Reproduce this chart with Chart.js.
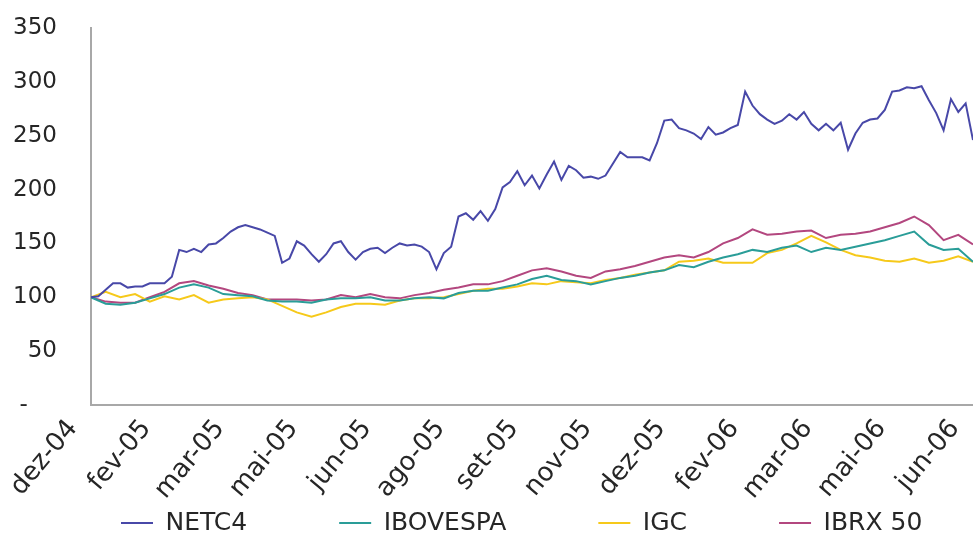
<!DOCTYPE html>
<html>
<head>
<meta charset="utf-8">
<script src="https://cdn.jsdelivr.net/npm/chart.js@4.4.0/dist/chart.umd.min.js"></script>
<style>
  html, body { margin: 0; padding: 0; background: #fff; }
  #wrap { width: 973px; height: 536px; }
</style>
</head>
<body>
<div id="wrap"><canvas id="chart"></canvas></div>
<script>
// tick labels, one every 10 steps of the x index
const tickLabels = ['dez-04', 'fev-05', 'mar-05', 'mai-05', 'jun-05', 'ago-05', 'set-05',
  'nov-05', 'dez-05', 'fev-06', 'mar-06', 'mai-06', 'jun-06'];

const seriesNames = ['NETC4', 'IBOVESPA', 'IGC', 'IBRX 50'];

// NETC4, read every step (121 points)
const netc4 = [
  100, 101, 107, 113, 113, 109, 110, 110, 113, 113,
  113, 119, 144, 142, 145, 142, 149, 150, 155, 161,
  165, 167, 165, 163, 160, 157, 132, 136, 152, 148,
  140, 133, 140, 150, 152, 142, 135, 142, 145, 146,
  141, 146, 150, 148, 149, 147, 142, 126, 141, 147,
  175, 178, 172, 180, 171, 182, 202, 207, 217, 204,
  213, 201, 214, 226, 209, 222, 218, 211, 212, 210,
  213, 224, 235, 230, 230, 230, 227, 243, 264, 265,
  257, 255, 252, 247, 258, 251, 253, 257, 260, 291,
  278, 270, 265, 261, 264, 270, 265, 272, 261, 255,
  261, 255, 262, 237, 252, 262, 265, 266, 274, 291,
  292, 295, 294, 296, 283, 271, 255, 284, 272, 280,
  246
];

// indices, read every 2 steps (61 points)
const ibovespa = [
  100, 94, 93, 95, 99, 103, 109, 112, 109, 103,
  102, 101, 97, 96, 96, 95, 98, 99, 99, 100,
  97, 97, 99, 100, 99, 104, 106, 106, 109, 112,
  117, 120, 116, 115, 112, 115, 118, 120, 123, 125,
  130, 128, 133, 137, 140, 144, 142, 146, 148, 142,
  146, 144, 147, 150, 153, 157, 161, 149, 144, 145,
  133
];
const igc = [
  100, 105, 100, 103, 96, 101, 98, 102, 95, 98,
  99, 100, 98, 92, 86, 82, 86, 91, 94, 94,
  93, 97, 99, 99, 100, 103, 106, 108, 108, 110,
  113, 112, 115, 114, 113, 116, 118, 121, 123, 125,
  133, 134, 136, 132, 132, 132, 141, 144, 150, 157,
  151, 144, 139, 137, 134, 133, 136, 132, 134, 138,
  133
];
const ibrx50 = [
  100, 96, 95, 95, 100, 105, 113, 115, 111, 108,
  104, 102, 98, 98, 98, 97, 98, 102, 100, 103,
  100, 99, 102, 104, 107, 109, 112, 112, 115, 120,
  125, 127, 124, 120, 118, 124, 126, 129, 133, 137,
  139, 137, 142, 150, 155, 163, 158, 159, 161, 162,
  155, 158, 159, 161, 165, 169, 175, 167, 153, 158,
  149
];

const colors = ['#4848a8', '#2a9d98', '#f6c91a', '#b3477f'];

const toPoints = (vals, step) => vals.map((v, i) => ({ x: i * step, y: v }));

const FONT = 'DejaVu Sans';
const TEXT = '#262626';
const LEGEND_PAD = 92;
const LEGEND_FS = 25;

// moves the bottom legend row to where the original had it
const legendPlacer = {
  id: 'legendPlacer',
  afterLayout(chart) {
    const lg = chart.legend;
    lg.left = 121 - LEGEND_PAD;
    lg.right = 1400;
    lg.top = 523 - LEGEND_PAD - LEGEND_FS / 2;
    lg.bottom = lg.top + 2 * LEGEND_PAD + LEGEND_FS;
  }
};

const mkDataset = (label, vals, step, color) => ({
  label: label,
  data: toPoints(vals, step),
  borderColor: color,
  backgroundColor: color,
  borderWidth: 2,
  pointRadius: 0,
  tension: 0
});

new Chart(document.getElementById('chart').getContext('2d'), {
  type: 'line',
  data: {
    datasets: [
      mkDataset(seriesNames[0], netc4, 1, colors[0]),
      mkDataset(seriesNames[1], ibovespa, 2, colors[1]),
      mkDataset(seriesNames[2], igc, 2, colors[2]),
      mkDataset(seriesNames[3], ibrx50, 2, colors[3])
    ]
  },
  options: {
    responsive: true,
    maintainAspectRatio: false,
    animation: false,
    layout: { padding: { top: 28, left: 0, right: 0, bottom: 0 } },
    plugins: {
      legend: {
        position: 'bottom',
        align: 'start',
        maxHeight: 36,
        labels: {
          usePointStyle: true,
          pointStyle: 'line',
          pointStyleWidth: 32,
          padding: LEGEND_PAD,
          color: TEXT,
          font: { family: FONT, size: LEGEND_FS }
        }
      },
      tooltip: { enabled: false }
    },
    scales: {
      x: {
        type: 'linear',
        min: 0,
        max: 120,
        grid: { display: false, drawTicks: false },
        border: { color: '#a8a8a8', width: 2 },
        ticks: {
          stepSize: 10,
          autoSkip: false,
          minRotation: 50,
          maxRotation: 50,
          padding: 9,
          labelOffset: -18,
          color: TEXT,
          font: { family: FONT, size: 26 },
          callback: v => tickLabels[Math.round(v / 10)]
        },
        afterFit: s => { s.paddingRight = 0; s.height = 95; }
      },
      y: {
        min: 0,
        max: 350,
        grid: { display: false, drawTicks: false },
        border: { color: '#a8a8a8', width: 2 },
        ticks: {
          stepSize: 50,
          padding: 34,
          color: TEXT,
          font: { family: FONT, size: 23 },
          callback: v => v === 0 ? '-    ' : v
        },
        afterFit: s => { s.width = 91; s.paddingTop = 0; s.paddingBottom = 0; }
      }
    }
  },
  plugins: [legendPlacer]
});
</script>
</body>
</html>
